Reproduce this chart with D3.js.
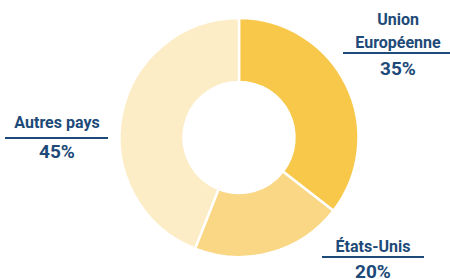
<!DOCTYPE html>
<html><head><meta charset="utf-8">
<script src="https://cdn.jsdelivr.net/npm/d3@7"></script>
<style>body{margin:0;background:#fff}svg{display:block}text{font-family:Roboto,sans-serif;font-weight:700;fill:#1d4a78}</style>
</head><body><svg id="c" width="450" height="279"></svg>
<script>
const categories = ["Union Européenne", "États-Unis", "Autres pays"];
const values = [35.5, 20.5, 44];
const colors = ["#f8c84b", "#f9d784", "#fdedc7"];
const labelLines = [["Union", "Européenne"], ["États-Unis"], ["Autres pays"]];
const pctLabels = ["35%", "20%", "45%"];

const svg = d3.select("#c");
const cx = 239, cy = 137.5, R = 119.5, r = 55.5;
const pie = d3.pie().sort(null).value(d => d)(values);
const arc = d3.arc().innerRadius(r).outerRadius(R);
const g = svg.append("g").attr("transform", `translate(${cx},${cy})`);
g.selectAll("path").data(pie).join("path")
  .attr("d", arc).attr("fill", (d, i) => colors[i])
  .attr("stroke", "#fff").attr("stroke-width", 2.5);

const lay = [
  {x: 398, y: 25, lh: 23, x1: 343, x2: 450, ly: 53, py: 75},
  {x: 373, y: 252, lh: 23, x1: 322, x2: 424, ly: 257, py: 278},
  {x: 57, y: 128, lh: 23, x1: 5, x2: 108, ly: 138, py: 158}
];
lay.forEach((L, i) => {
  labelLines[i].forEach((t, j) => {
    svg.append("text").attr("x", L.x).attr("y", L.y + j * L.lh)
      .attr("text-anchor", "middle").attr("font-size", 16).text(t);
  });
  svg.append("line").attr("x1", L.x1).attr("x2", L.x2).attr("y1", L.ly).attr("y2", L.ly)
    .attr("stroke", "#1d4a78").attr("stroke-width", 2);
  svg.append("text").attr("x", L.x).attr("y", L.py)
    .attr("text-anchor", "middle").attr("font-size", 19).text(pctLabels[i]);
});
</script></body></html>
